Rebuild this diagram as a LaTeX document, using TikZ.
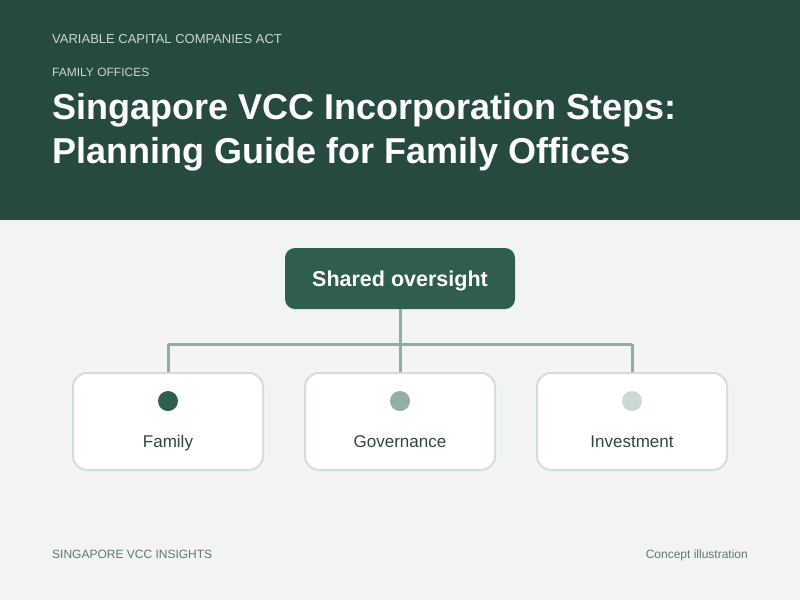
\documentclass[tikz,border=0pt]{standalone}
\usepackage{fontspec}
\setmainfont{Liberation Sans}
\definecolor{hdr}{HTML}{264A40}
\definecolor{bodybg}{HTML}{F1F4F2}
\definecolor{kicker}{HTML}{C5D9CF}
\definecolor{boxgreen}{HTML}{2F5D4E}
\definecolor{linec}{HTML}{8FAE9F}
\definecolor{cardline}{HTML}{D3DED8}
\definecolor{dotA}{HTML}{2F5D4E}
\definecolor{dotB}{HTML}{93AFA2}
\definecolor{dotC}{HTML}{C9DBD2}
\definecolor{labelc}{HTML}{2E463D}
\definecolor{footc}{HTML}{5F786D}
\begin{document}
\begin{tikzpicture}[x=1pt,y=-1pt,
  kick/.style={anchor=base west,text=kicker,inner sep=0pt},
  titletext/.style={anchor=base west,text=white,inner sep=0pt,font=\fontsize{36}{42}\selectfont\bfseries},
  topbox/.style={rectangle,rounded corners=10pt,fill=boxgreen,minimum width=230pt,minimum height=61pt,text=white,font=\fontsize{21.5}{26}\selectfont\bfseries,text height=15.4pt,text depth=0pt,inner sep=0pt},
  card/.style={rectangle,rounded corners=14pt,fill=white,draw=cardline,line width=2pt,minimum width=190pt,minimum height=97pt},
  dot/.style={circle,minimum size=20pt,inner sep=0pt},
  cardlabel/.style={text=labelc,font=\fontsize{17}{20}\selectfont,inner sep=0pt,text height=12.2pt,text depth=0pt},
  conn/.style={draw=linec,line width=3pt},
  foot/.style={text=footc,font=\fontsize{12}{14}\selectfont,inner sep=0pt,anchor=base}
]
\useasboundingbox (0,0) rectangle (800,600);
\fill[bodybg] (0,0) rectangle (800,600);
\fill[hdr] (0,0) rectangle (800,220);
\node[kick,font=\fontsize{13}{16}\selectfont] (k1) at (52,43.5) {VARIABLE CAPITAL COMPANIES ACT};
\node[kick,font=\fontsize{12}{14}\selectfont] (k2) at (52,76) {FAMILY OFFICES};
\node[titletext] (t1) at (52,119) {Singapore VCC Incorporation Steps:};
\node[titletext] (t2) at (52,163) {Planning Guide for Family Offices};

\node[topbox] (top) at (400,278.5) {Shared oversight};

\coordinate (jl) at (168,344);
\coordinate (jr) at (632,344);
\coordinate (jm) at (400,344);
\coordinate (c1t) at (168,373);
\coordinate (c2t) at (400,373);
\coordinate (c3t) at (632,373);
\draw[conn] (top.south) -- (c2t);
\draw[conn] (jl) -- (jr);
\draw[conn] (jl) -- (c1t);
\draw[conn] (jr) -- (c3t);

\node[card] (c1) at (168,421.5) {};
\node[card] (c2) at (400,421.5) {};
\node[card] (c3) at (632,421.5) {};

\node[dot,fill=dotA] (d1) at (168,401) {};
\node[dot,fill=dotB] (d2) at (400,401) {};
\node[dot,fill=dotC] (d3) at (632,401) {};
\node[cardlabel] (l1) at (168,441.5) {Family};
\node[cardlabel] (l2) at (400,441.5) {Governance};
\node[cardlabel] (l3) at (632,441.5) {Investment};

\node[foot,anchor=base west] (f1) at (52,558) {SINGAPORE VCC INSIGHTS};
\node[foot,anchor=base east] (f2) at (748,558) {Concept illustration};
\end{tikzpicture}
\end{document}
